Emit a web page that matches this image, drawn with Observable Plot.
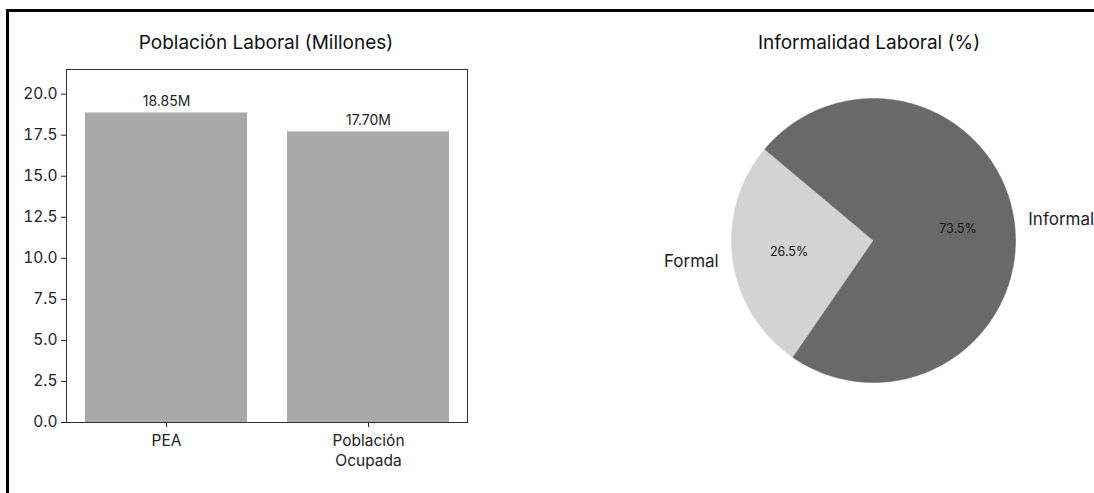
<!DOCTYPE html>
<html><head><meta charset="utf-8">
<script src="https://cdn.jsdelivr.net/npm/d3@7"></script>
<script src="https://cdn.jsdelivr.net/npm/@observablehq/plot@0.6"></script>
<style>
body{margin:0;background:#fff;font-family:Inter, sans-serif;}
#wrap{position:relative;width:1094px;height:493px;overflow:hidden;background:#fff;}
#border{position:absolute;left:6px;top:9px;width:1200px;height:600px;border-top:3px solid #000;border-left:3px solid #000;z-index:5;}
.title{position:absolute;font-size:19px;line-height:22px;color:#111;transform:translateX(-50%);white-space:nowrap;z-index:4;}
#bar svg, #pie svg{background:transparent;}
</style></head><body>
<div id="wrap">
<div id="bar" style="position:absolute;left:0;top:0"></div>
<div id="pie" style="position:absolute;left:640px;top:60px"></div>
<div class="title" style="left:266px;top:32px">Población Laboral (Millones)</div>
<div class="title" style="left:869px;top:32px">Informalidad Laboral (%)</div>
<div id="border"></div>
</div>
<script>
// ---- data ----
const barCategories = ["PEA", "Población Ocupada"];
const barValues = [18.85, 17.70];
const barLabels = ["18.85M", "17.70M"];
const yTicks = [0, 2.5, 5, 7.5, 10, 12.5, 15, 17.5, 20];
const pieLabels = ["Formal", "Informal"];
const pieShares = [26.5, 73.5];
const pieColors = ["#d3d3d3", "#696969"];
const pieStartAngle = 140;

// ---- bar chart ----
const barData = barCategories.map((c, i) => ({cat: c, value: barValues[i], label: barLabels[i]}));
const fmtCat = d => d.replace(" ", "\n");
const barPlot = Plot.plot({
  width: 540, height: 493,
  marginLeft: 66, marginRight: 73, marginTop: 69, marginBottom: 71,
  style: {fontFamily: "Inter, sans-serif", color: "#222", background: "transparent"},
  x: {type: "band", domain: barCategories, paddingInner: 0.2, paddingOuter: 0.09, label: null},
  y: {domain: [0, 21.5], label: null},
  marks: [
    Plot.barY(barData, {x: "cat", y: "value", fill: "#a9a9a9"}),
    Plot.text(barData, {x: "cat", y: "value", text: "label", dy: -7, lineAnchor: "bottom", fontSize: 14, fill: "#222"}),
    Plot.frame({stroke: "#333"}),
    Plot.axisY({ticks: yTicks, tickFormat: d3.format(".1f"), fontSize: 15.5, tickSize: 5, tickPadding: 4, label: null}),
    Plot.axisX({tickFormat: fmtCat, fontSize: 15.5, tickSize: 5, tickPadding: 4, label: null, lineHeight: 1.3})
  ]
});
document.getElementById("bar").append(barPlot);

// ---- pie chart ----
const total = d3.sum(pieShares);
let acc = pieStartAngle;
const slices = pieLabels.map((l, i) => {
  const a0 = acc, a1 = acc + pieShares[i] / total * 360;
  acc = a1;
  return {label: l, share: pieShares[i], color: pieColors[i], a0, a1, mid: (a0 + a1) / 2};
});
const rad = a => a * Math.PI / 180;
const slicePts = s => {
  const pts = [{x: 0, y: 0}];
  const n = Math.ceil((s.a1 - s.a0) / 0.5);
  for (let k = 0; k <= n; k++) {
    const a = rad(s.a0 + (s.a1 - s.a0) * k / n);
    pts.push({x: Math.cos(a), y: Math.sin(a)});
  }
  pts.push({x: 0, y: 0});
  return pts;
};
const nameLabels = slices.map(s => ({x: 1.1 * Math.cos(rad(s.mid)), y: 1.1 * Math.sin(rad(s.mid)), text: s.label,
  anchor: Math.cos(rad(s.mid)) < 0 ? "end" : "start"}));
const pctLabels = slices.map(s => ({x: 0.6 * Math.cos(rad(s.mid)), y: 0.6 * Math.sin(rad(s.mid)), text: s.share.toFixed(1) + "%"}));

const piePlot = Plot.plot({
  width: 454, height: 380,
  marginLeft: 91, marginRight: 79, marginTop: 38, marginBottom: 58,
  style: {fontFamily: "Inter, sans-serif", color: "#222", background: "transparent", overflow: "visible"},
  x: {domain: [-1, 1], axis: null},
  y: {domain: [-1, 1], axis: null},
  marks: [
    ...slices.map(s => Plot.line(slicePts(s), {x: "x", y: "y", fill: s.color, stroke: s.color, strokeWidth: 0.5, curve: "linear"})),
    Plot.text(nameLabels.filter(d => d.anchor === "end"), {x: "x", y: "y", text: "text", textAnchor: "end", fontSize: 17, fill: "#222"}),
    Plot.text(nameLabels.filter(d => d.anchor === "start"), {x: "x", y: "y", text: "text", textAnchor: "start", fontSize: 17, fill: "#222"}),
    Plot.text(pctLabels, {x: "x", y: "y", text: "text", fontSize: 12.5, fill: "#111"})
  ]
});
document.getElementById("pie").append(piePlot);
</script>
</body></html>
